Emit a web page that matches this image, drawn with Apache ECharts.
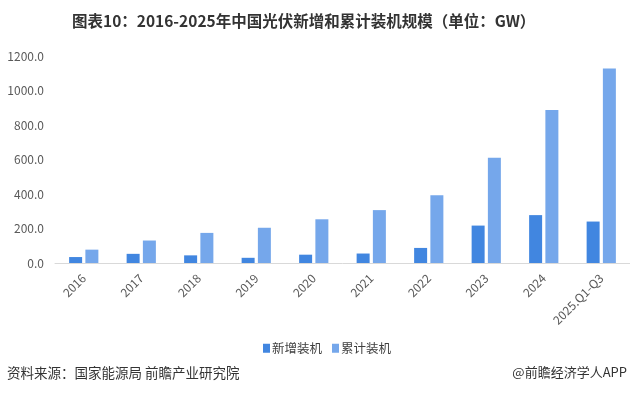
<!DOCTYPE html>
<html><head><meta charset="utf-8">
<script src="https://cdn.jsdelivr.net/npm/echarts@6/dist/echarts.min.js"></script>
<style>html,body{margin:0;padding:0;background:#fff}#c{width:630px;height:395px}</style>
</head><body><div id="c"></div>
<script>
const categories = ['2016','2017','2018','2019','2020','2021','2022','2023','2024','2025.Q1-Q3'];
const newInstall = [34.5, 53.1, 44.3, 30.1, 48.2, 54.9, 87.4, 216.9, 277.6, 240.3];
const cumInstall = [77.4, 130.3, 174.5, 204.3, 253.4, 306.6, 392.6, 609.5, 886.7, 1127.0];
const seriesNames = ['新增装机', '累计装机'];
const titleText = '图表10：2016-2025年中国光伏新增和累计装机规模（单位：GW）';
const sourceText = '资料来源：国家能源局 前瞻产业研究院';
const creditText = '@前瞻经济学人APP';

const font = '"Microsoft YaHei","Noto Sans CJK SC",sans-serif';
const chart = echarts.init(document.getElementById('c'));
chart.setOption({
  animation: false,
  textStyle: { fontFamily: font },
  title: {
    text: titleText, left: 67, top: 8,
    textStyle: { fontSize: 15.5, fontWeight: 'bold', color: '#333', fontFamily: font }
  },
  legend: {
    data: seriesNames, top: 337, left: 258,
    icon: 'rect', itemWidth: 7, itemHeight: 9, itemGap: 10,
    textStyle: { fontSize: 12.5, color: '#404040', fontFamily: font, padding: [0, 0, 0, -3] }
  },
  grid: { left: 55, right: -4, top: 56, bottom: 132, containLabel: false },
  xAxis: {
    type: 'category', data: categories,
    axisLine: { lineStyle: { color: '#d9d9d9', width: 1 } },
    axisTick: { show: false },
    axisLabel: { rotate: 45, color: '#595959', fontSize: 12, interval: 0, margin: 13 }
  },
  yAxis: {
    type: 'value', min: 0, max: 1200, interval: 200,
    axisLine: { show: false }, axisTick: { show: false },
    splitLine: { show: false },
    axisLabel: { color: '#595959', fontSize: 12, margin: 11, formatter: v => v.toFixed(1) }
  },
  series: [
    { name: seriesNames[0], type: 'bar', data: newInstall, barWidth: 13, barGap: '25%',
      itemStyle: { color: '#4186E0' } },
    { name: seriesNames[1], type: 'bar', data: cumInstall, barWidth: 13,
      itemStyle: { color: '#75A7EB' } }
  ],
  graphic: [
    { type: 'text', left: 7, top: 366, style: { text: sourceText, fontSize: 13.5, fill: '#333', fontFamily: font } },
    { type: 'text', right: 3, top: 366, style: { text: creditText, fontSize: 13, fill: '#333', fontFamily: font } }
  ]
});
</script></body></html>
